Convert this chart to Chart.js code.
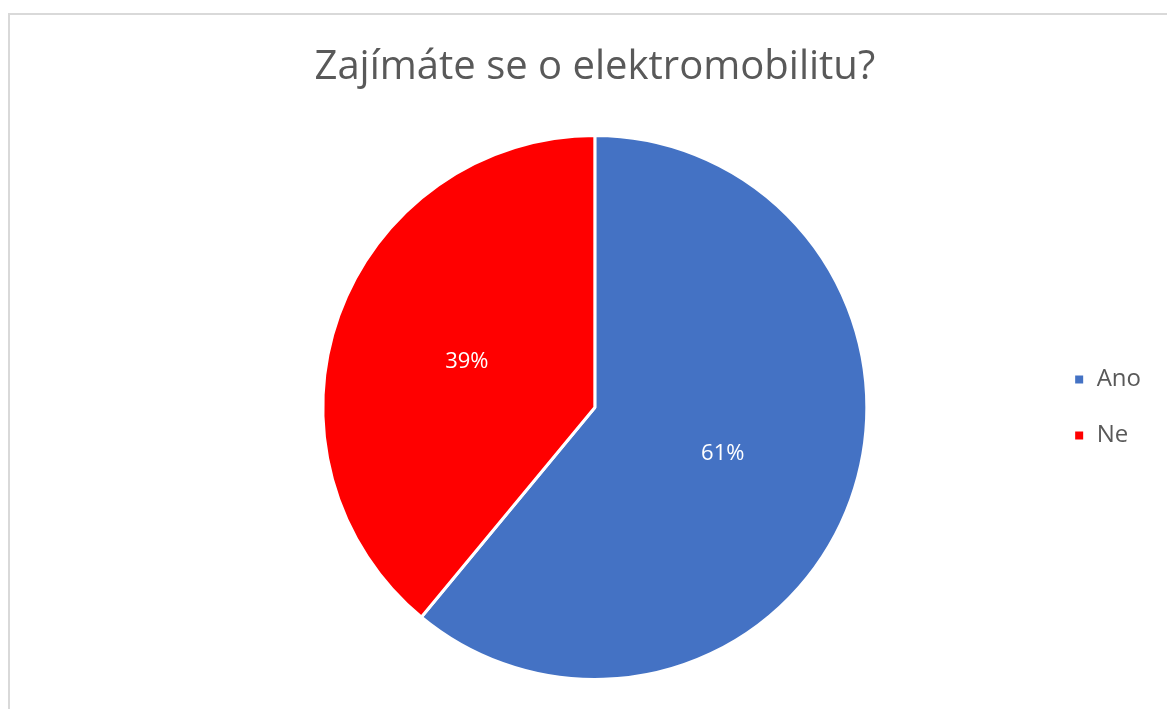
<!DOCTYPE html>
<html>
<head>
<meta charset="utf-8">
<script src="https://cdn.jsdelivr.net/npm/chart.js@4/dist/chart.umd.min.js"></script>
<style>
  html, body { margin: 0; padding: 0; background: #fff; overflow: hidden; }
  #frame { position: absolute; left: 8px; top: 13px; width: 1200px; height: 760px;
           border-top: 2px solid #d9d9d9; border-left: 2px solid #d9d9d9; }
  #wrap { position: absolute; left: 0; top: 0; width: 1167px; height: 709px; }
</style>
</head>
<body>
<div id="frame"></div>
<div id="wrap"><canvas id="zajem" width="1167" height="709"></canvas></div>
<script>
// Odpovědi na otázku o elektromobilitě (v procentech)
var odpovedi = ['Ano', 'Ne'];
var podily = [61, 39];
var barvy = ['#4472c4', '#ff0000'];

// popisky s procenty uprostřed výsečí
var popiskyPlugin = {
    id: 'popisky',
    afterDatasetsDraw: function (chart) {
        var ctx = chart.ctx;
        var meta = chart.getDatasetMeta(0);
        ctx.save();
        ctx.fillStyle = '#ffffff';
        ctx.font = '22px "Open Sans", sans-serif';
        ctx.textAlign = 'center';
        ctx.textBaseline = 'middle';
        meta.data.forEach(function (arc, i) {
            var p = arc.getCenterPoint();
            ctx.fillText(podily[i] + '%', p.x, p.y);
        });
        ctx.restore();
    }
};

var ctx1 = document.getElementById('zajem').getContext('2d');
var graf = new Chart(ctx1, {
    type: 'pie',
    data: {
        labels: odpovedi,
        datasets: [{
            data: podily,
            backgroundColor: barvy,
            borderColor: '#ffffff',
            borderWidth: 3,
            hoverOffset: 0
        }]
    },
    options: {
        responsive: false,
        animation: false,
        layout: {
            padding: { left: 148, right: 16, top: 0, bottom: 28 }
        },
        plugins: {
            title: {
                display: true,
                fullSize: false,
                text: 'Zajímáte se o elektromobilitu?',
                color: '#595959',
                font: { family: '"Open Sans", sans-serif', size: 40, weight: 'normal' },
                padding: { top: 44, bottom: 42 }
            },
            legend: {
                position: 'right',
                fullSize: false,
                labels: {
                    color: '#595959',
                    font: { family: '"Open Sans", sans-serif', size: 24 },
                    boxWidth: 11,
                    boxHeight: 11,
                    padding: 32
                }
            },
            tooltip: { enabled: false }
        }
    },
    plugins: [popiskyPlugin]
});
</script>
</body>
</html>
